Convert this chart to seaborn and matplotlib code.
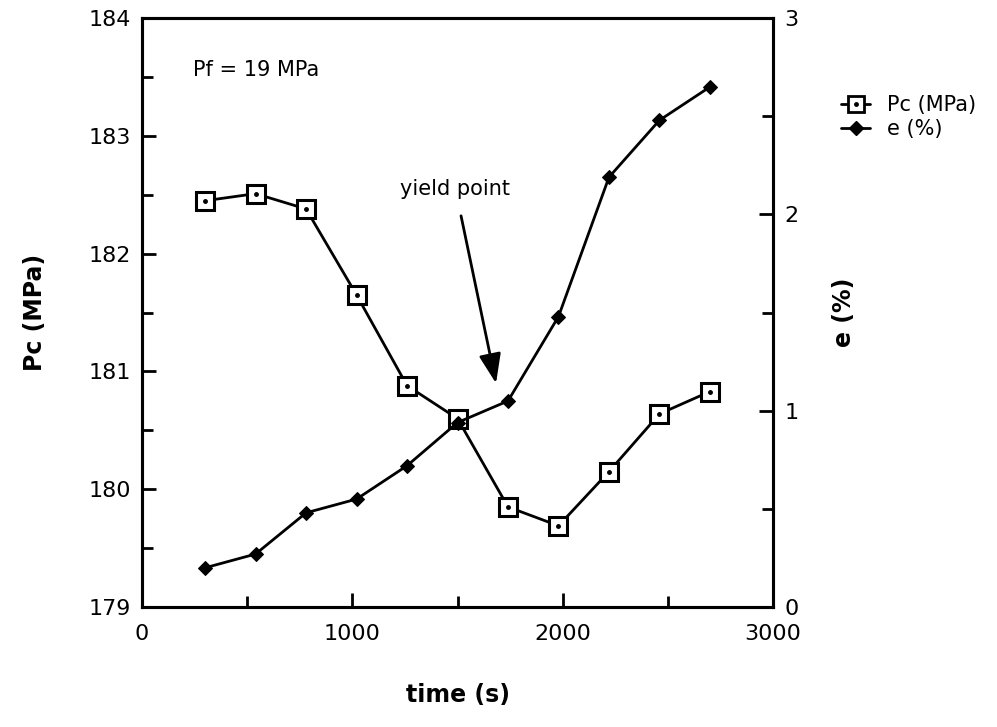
import matplotlib
matplotlib.use("Agg")
import matplotlib.pyplot as plt
import seaborn as sns
import pandas as pd
from matplotlib.lines import Line2D
from matplotlib.legend_handler import HandlerTuple

sns.set_style("ticks")
plt.rcParams['font.family'] = ['DejaVu Sans']
plt.rcParams.update({"text.color": "black", "axes.labelcolor": "black",
                     "xtick.color": "black", "ytick.color": "black",
                     "axes.edgecolor": "black"})

time_s = [300, 540, 780, 1020, 1260, 1500, 1740, 1980, 2220, 2460, 2700]
pc_mpa = [182.45, 182.51, 182.38, 181.65, 180.88, 180.60, 179.85, 179.69, 180.15, 180.64, 180.83]
e_pct = [0.20, 0.27, 0.48, 0.55, 0.72, 0.94, 1.05, 1.48, 2.19, 2.48, 2.65]

df = pd.DataFrame({"time": time_s, "Pc": pc_mpa, "e": e_pct})

fig = plt.figure(figsize=(9.97, 7.27), dpi=100)
ax = fig.add_axes([0.1424, 0.165, 0.633, 0.810])
ax2 = ax.twinx()

sns.lineplot(data=df, x="time", y="Pc", ax=ax, color="black", lw=2,
             marker="s", markersize=13, markerfacecolor="white",
             markeredgecolor="black", markeredgewidth=2.2, zorder=3)
ax.plot(df["time"], df["Pc"], ls="none", marker="o", markersize=2.5,
        color="black", zorder=4)
sns.lineplot(data=df, x="time", y="e", ax=ax2, color="black", lw=2,
             marker="D", markersize=7, markerfacecolor="black",
             markeredgecolor="black", zorder=3)

ax.set_xlim(0, 3000)
ax.set_ylim(179, 184)
ax2.set_ylim(0, 3)
ax.set_xticks([0, 1000, 2000, 3000])
ax.set_xticks([500, 1500, 2500], minor=True)
ax.set_yticks([179, 180, 181, 182, 183, 184])
ax.set_yticks([179.5, 180.5, 181.5, 182.5, 183.5], minor=True)
ax2.set_yticks([0, 1, 2, 3])
ax2.set_yticks([0.5, 1.5, 2.5], minor=True)

for a in (ax, ax2):
    for s in a.spines.values():
        s.set_linewidth(2.2)
        s.set_color("black")
        s.set_visible(True)
    a.tick_params(which="major", direction="in", length=10, width=2, labelsize=16, pad=8,
                  colors="black")
    a.tick_params(which="minor", direction="in", length=8, width=2, colors="black")
ax.tick_params(axis="x", pad=12)

ax.set_xlabel("time (s)", fontsize=17, fontweight="bold", labelpad=28, color="black")
ax.set_ylabel("Pc (MPa)", fontsize=17, fontweight="bold", labelpad=30, color="black")
ax2.set_ylabel("e (%)", fontsize=17, fontweight="bold", rotation=90, labelpad=24, color="black")

ax.text(243, 183.56, "Pf = 19 MPa", fontsize=15, va="center", ha="left", color="black")
ax.annotate("yield point", xy=(1683, 180.9), xytext=(1490, 182.55),
            fontsize=15, ha="center", va="center", color="black",
            arrowprops=dict(arrowstyle="-|>,head_length=1.2,head_width=0.45",
                            color="black", lw=2, shrinkA=10, shrinkB=0))

h1 = Line2D([], [], color="black", lw=2, marker="s", markersize=11,
            markerfacecolor="white", markeredgecolor="black", markeredgewidth=2)
h1d = Line2D([], [], ls="none", marker="o", markersize=2.5, color="black")
h2 = Line2D([], [], color="black", lw=2, marker="D", markersize=7)
fig.legend([(h1, h1d), h2], ["Pc (MPa)", "e (%)"],
           handler_map={tuple: HandlerTuple(ndivide=1)},
           loc="upper left", bbox_to_anchor=(0.825, 0.895), frameon=False,
           fontsize=15, handlelength=1.4, handletextpad=0.8, labelspacing=0.2,
           labelcolor="black")

fig.savefig("out.png", dpi=100)
